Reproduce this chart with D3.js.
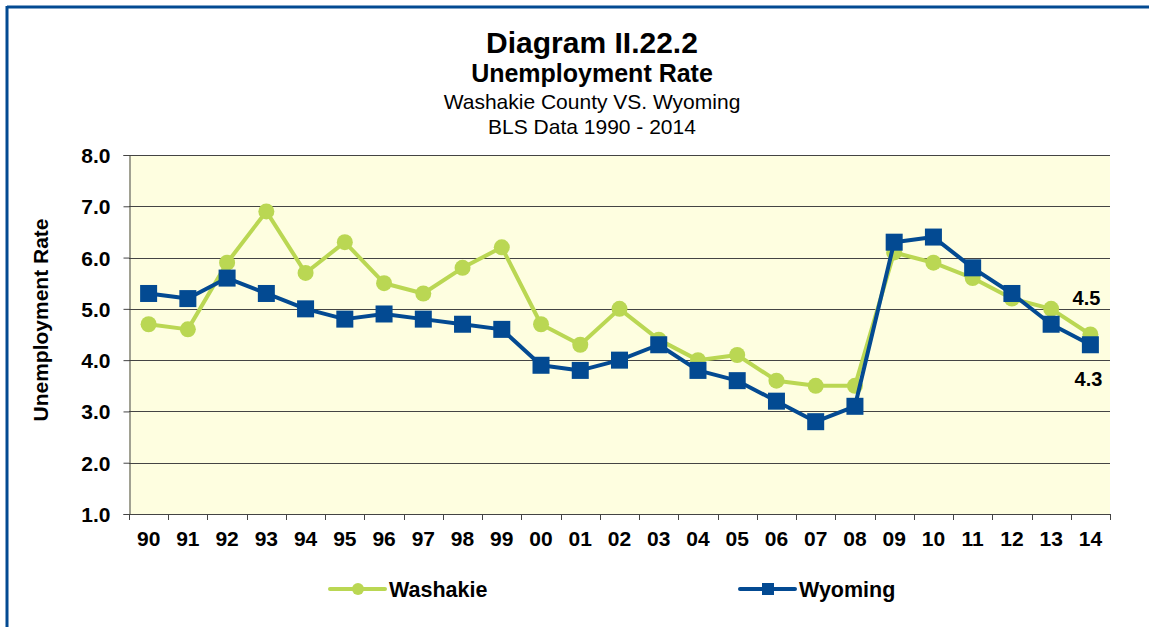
<!DOCTYPE html>
<html><head><meta charset="utf-8">
<script src="https://cdn.jsdelivr.net/npm/d3@7"></script>
<style>body{margin:0;background:#fff}svg{display:block;font-family:Arial,"Liberation Sans",sans-serif}</style>
</head><body><svg id="c" width="1149" height="627"></svg>
<script>
const years = ["90","91","92","93","94","95","96","97","98","99","00","01","02","03","04","05","06","07","08","09","10","11","12","13","14"];
const washakie = [4.7,4.6,5.9,6.9,5.7,6.3,5.5,5.3,5.8,6.2,4.7,4.3,5.0,4.4,4.0,4.1,3.6,3.5,3.5,6.1,5.9,5.6,5.2,5.0,4.5];
const wyoming = [5.3,5.2,5.6,5.3,5.0,4.8,4.9,4.8,4.7,4.6,3.9,3.8,4.0,4.3,3.8,3.6,3.2,2.8,3.1,6.3,6.4,5.8,5.3,4.7,4.3];
const yTicks = [1,2,3,4,5,6,7,8];
const titles = ["Diagram II.22.2","Unemployment Rate","Washakie County VS. Wyoming","BLS Data 1990 - 2014"];
const seriesNames = ["Washakie","Wyoming"];

const svg = d3.select("#c");
const L=129, R=1110, T=155, B=514;
const green="#BAD753", blue="#034A92";
const FF="Arial, 'Liberation Sans', sans-serif";

// frame
svg.append("line").attr("x1",7).attr("x2",1149).attr("y1",7).attr("y2",7).attr("stroke",blue).attr("stroke-width",3);
svg.append("line").attr("x1",7).attr("x2",7).attr("y1",6).attr("y2",627).attr("stroke",blue).attr("stroke-width",3);

const x = d3.scaleBand().domain(years).range([L,R]);
const y = d3.scaleLinear().domain([1,8]).range([B,T]);

svg.append("rect").attr("x",L).attr("y",T).attr("width",R-L).attr("height",B-T).attr("fill","#FEFEE0");

svg.append("g").selectAll("line").data(yTicks.slice(1)).join("line")
  .attr("x1",L).attr("x2",R).attr("y1",d=>Math.round(y(d))+0.5).attr("y2",d=>Math.round(y(d))+0.5)
  .attr("stroke","#444").attr("stroke-width",1);

const yAxis = svg.append("g").attr("transform",`translate(${L+0.5},0)`)
  .call(d3.axisLeft(y).tickValues(yTicks).tickFormat(d3.format(".1f")).tickSize(6).tickPadding(13));
const xAxis = svg.append("g").attr("transform",`translate(0,${B+0.5})`)
  .call(d3.axisBottom(x).tickSize(0).tickPadding(17));
// boundary ticks
svg.append("g").selectAll("line").data(years.concat(["end"])).join("line")
  .attr("x1",(d,i)=>Math.round(i<years.length?x(d):R)+0.5).attr("x2",(d,i)=>Math.round(i<years.length?x(d):R)+0.5)
  .attr("y1",B).attr("y2",B+6).attr("stroke","#444");
[yAxis,xAxis].forEach(a=>{
  a.selectAll(".domain").attr("stroke","#444");
  a.selectAll(".tick line").attr("stroke","#444");
  a.selectAll("text").attr("font-size",21).attr("font-weight","bold").attr("fill","#000").attr("font-family",FF);
});
yAxis.selectAll("text").attr("dy","0.36em");
xAxis.select(".domain").attr("d",`M${L},0H${R}`);

const cx = d=>x(d)+x.bandwidth()/2;
const line = (vals)=>d3.line().x((d,i)=>cx(years[i])).y(d=>y(d))(vals);

svg.append("path").attr("d",line(washakie)).attr("fill","none").attr("stroke",green).attr("stroke-width",4).attr("stroke-linejoin","round");
svg.append("g").selectAll("circle").data(washakie).join("circle")
  .attr("cx",(d,i)=>cx(years[i])).attr("cy",d=>y(d)).attr("r",8).attr("fill",green);

svg.append("path").attr("d",line(wyoming)).attr("fill","none").attr("stroke",blue).attr("stroke-width",4).attr("stroke-linejoin","round");
svg.append("g").selectAll("rect").data(wyoming).join("rect")
  .attr("x",(d,i)=>cx(years[i])-8.5).attr("y",d=>y(d)-8.5).attr("width",17).attr("height",17).attr("fill",blue);

// data labels
const last = years.length-1;
svg.append("text").attr("x",cx(years[last])+10).attr("y",y(washakie[last])-30).attr("text-anchor","end")
  .attr("font-size",20).attr("font-weight","bold").text(d3.format(".1f")(washakie[last]));
svg.append("text").attr("x",cx(years[last])+12).attr("y",y(wyoming[last])+41).attr("text-anchor","end")
  .attr("font-size",20).attr("font-weight","bold").text(d3.format(".1f")(wyoming[last]));

// titles
const tx=592;
svg.append("text").attr("x",tx).attr("y",53).attr("text-anchor","middle").attr("font-size",30).attr("font-weight","bold").text(titles[0]);
svg.append("text").attr("x",tx).attr("y",82).attr("text-anchor","middle").attr("font-size",25).attr("font-weight","bold").text(titles[1]);
svg.append("text").attr("x",tx).attr("y",109).attr("text-anchor","middle").attr("font-size",21).text(titles[2]);
svg.append("text").attr("x",tx).attr("y",134).attr("text-anchor","middle").attr("font-size",21).text(titles[3]);

svg.append("text").attr("transform","translate(48,320) rotate(-90)").attr("text-anchor","middle")
  .attr("font-size",21).attr("font-weight","bold").text("Unemployment Rate");

// legend
const leg = [{x:330,c:green,shape:"circle"},{x:740,c:blue,shape:"square"}];
leg.forEach((l,i)=>{
  const g=svg.append("g");
  g.append("line").attr("x1",l.x).attr("x2",l.x+55).attr("y1",589).attr("y2",589).attr("stroke",l.c).attr("stroke-width",4).attr("stroke-linecap","round");
  if(l.shape==="circle") g.append("circle").attr("cx",l.x+28).attr("cy",589).attr("r",6).attr("fill",l.c);
  else g.append("rect").attr("x",l.x+22).attr("y",583).attr("width",12).attr("height",12).attr("fill",l.c);
  g.append("text").attr("x",l.x+59).attr("y",597).attr("font-size",21.5).attr("font-weight","bold").text(seriesNames[i]);
});
</script></body></html>
